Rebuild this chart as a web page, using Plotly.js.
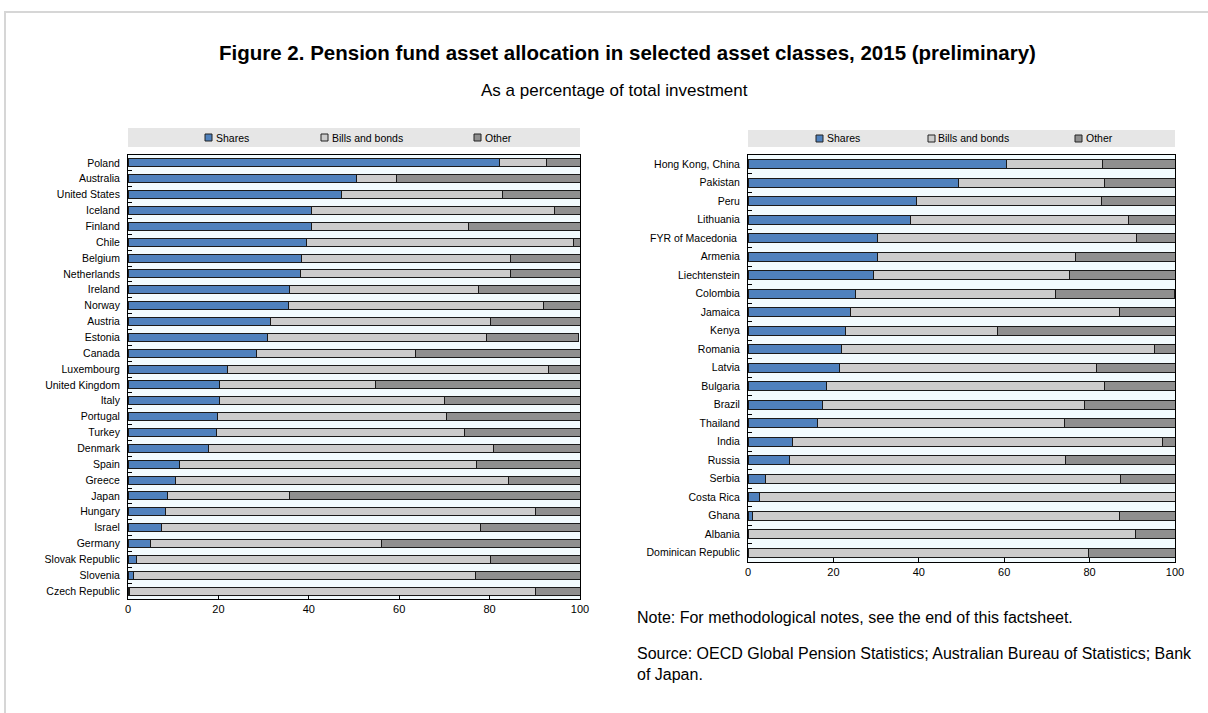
<!DOCTYPE html>
<html>
<head>
<meta charset="utf-8">
<script src="https://cdn.plot.ly/plotly-3.0.1.min.js"></script>
<style>
html,body{margin:0;padding:0;background:#fff;}
#chart{width:1208px;height:713px;}
</style>
</head>
<body>
<div id="chart"></div>
<script>
// ---------- DATA ----------
const seriesNames = ["Shares", "Bills and bonds", "Other"];

const leftCountries = ["Poland","Australia","United States","Iceland","Finland","Chile","Belgium","Netherlands","Ireland","Norway","Austria","Estonia","Canada","Luxembourg","United Kingdom","Italy","Portugal","Turkey","Denmark","Spain","Greece","Japan","Hungary","Israel","Germany","Slovak Republic","Slovenia","Czech Republic"];
const leftShares = [82.2,50.5,47.2,40.6,40.6,39.6,38.3,38.1,35.7,35.4,31.6,30.9,28.4,22.1,20.3,20.3,19.9,19.6,17.7,11.4,10.4,8.7,8.4,7.5,4.9,1.8,1.3,0.3];
const leftBonds  = [10.4,9.0,35.7,53.7,34.8,58.9,46.3,46.6,41.8,56.5,48.5,48.4,35.1,70.9,34.5,49.7,50.6,54.8,63.2,65.7,73.8,27.0,81.7,70.4,51.1,78.5,75.5,89.8];
const leftOther  = [7.4,40.5,17.1,5.7,24.6,1.5,15.4,15.3,22.5,8.1,19.9,20.4,36.5,7.0,45.2,30.0,29.5,25.6,19.1,22.9,15.8,64.3,9.9,22.1,44.0,19.7,23.2,9.9];

const rightCountries = ["Hong Kong, China","Pakistan","Peru","Lithuania","FYR of Macedonia\u00a0","Armenia","Liechtenstein","Colombia","Jamaica","Kenya","Romania","Latvia","Bulgaria","Brazil","Thailand","India","Russia","Serbia","Costa Rica","Ghana","Albania","Dominican Republic"];
const rightShares = [60.6,49.2,39.5,38.0,30.3,30.3,29.5,25.2,23.9,22.8,22.0,21.5,18.5,17.4,16.2,10.4,9.8,4.0,2.8,1.1,0,0];
const rightBonds  = [22.4,34.2,43.2,51.0,60.6,46.5,45.7,46.9,63.2,35.7,73.2,60.0,64.9,61.5,57.9,86.6,64.5,83.2,97.2,86.0,90.8,79.7];
const rightOther  = [17.0,16.6,17.3,11.0,9.1,23.2,24.8,27.7,12.9,41.5,4.8,18.5,16.6,21.1,25.9,3.0,25.7,13.1,0,12.9,9.2,20.3];

const xTicks = [0,20,40,60,80,100];

const titleText = "Figure 2. Pension fund asset allocation in selected asset classes, 2015 (preliminary)";
const subtitleText = "As a percentage of total investment";
const noteText = "Note: For methodological notes, see the end of this factsheet.";
const sourceText = "Source: OECD Global Pension Statistics; Australian Bureau of Statistics; Bank<br>of Japan.";

// ---------- STYLE ----------
const colors = ["#4f81bd", "#cccccc", "#8f8f8f"];
const W = 1208, H = 713;
const px = x => x / W;
const py = y => 1 - y / H;
const NARROW = "'Liberation Sans Narrow', 'Arial Narrow', 'Liberation Sans', Arial, sans-serif";
const ARIAL = "'Liberation Sans', Arial, sans-serif";

function makeTraces(cats, shares, bonds, other, xa, ya) {
  const vals = [shares, bonds, other];
  return vals.map((v, i) => ({
    type: "bar",
    orientation: "h",
    name: seriesNames[i],
    y: cats,
    x: v,
    xaxis: xa,
    yaxis: ya,
    marker: { color: colors[i], line: { color: "#1a1a1a", width: 1 } },
    showlegend: false,
    hoverinfo: "x+y+name"
  }));
}

const data = [
  ...makeTraces(leftCountries, leftShares, leftBonds, leftOther, "x", "y"),
  ...makeTraces(rightCountries, rightShares, rightBonds, rightOther, "x2", "y2")
];

function xAxis(domain, anchor) {
  return {
    domain: domain, anchor: anchor, range: [0, 100], tickvals: xTicks,
    ticks: "inside", ticklen: 4, tickcolor: "#000", tickwidth: 1,
    showline: true, mirror: true, linecolor: "#000", linewidth: 1,
    showgrid: false, zeroline: false, fixedrange: true,
    tickfont: { family: NARROW, size: 11, color: "#000" }
  };
}
function yAxis(domain, anchor, cats) {
  return {
    domain: domain, anchor: anchor, type: "category",
    categoryorder: "array", categoryarray: cats, autorange: "reversed",
    ticks: "inside", tickson: "boundaries", ticklen: 4, tickcolor: "#000", tickwidth: 1,
    showline: true, mirror: true, linecolor: "#000", linewidth: 1,
    showgrid: false, zeroline: false, fixedrange: true, ticklabelstandoff: 5,
    tickfont: { family: NARROW, size: 10.5, color: "#000" }
  };
}

// legend bands and entries (drawn as legend decorations)
const legendBands = [
  { x0: 128, x1: 580, y0: 128, y1: 147, markers: [205, 321, 474] },
  { x0: 748, x1: 1175, y0: 130, y1: 147, markers: [816, 928, 1075] }
];
const shapes = [
  { type: "rect", xref: "paper", yref: "paper", x0: px(5), x1: px(1215), y0: py(12), y1: py(720),
    line: { color: "#d6d6d6", width: 2 }, fillcolor: "rgba(0,0,0,0)", layer: "below" }
];
const annotations = [
  { text: "<b>" + titleText + "</b>", x: px(627), y: py(52), xref: "paper", yref: "paper",
    showarrow: false, xanchor: "center", yanchor: "middle", font: { family: ARIAL, size: 20.5, color: "#000" } },
  { text: subtitleText, x: px(614), y: py(91), xref: "paper", yref: "paper",
    showarrow: false, xanchor: "center", yanchor: "middle", font: { family: ARIAL, size: 17, color: "#000" } },
  { text: noteText, x: px(635), y: py(617), xref: "paper", yref: "paper", align: "left",
    showarrow: false, xanchor: "left", yanchor: "middle", font: { family: ARIAL, size: 16, color: "#000" } },
  { text: sourceText, x: px(635), y: py(643), xref: "paper", yref: "paper", align: "left",
    showarrow: false, xanchor: "left", yanchor: "top", font: { family: ARIAL, size: 16, color: "#000" } }
];
legendBands.forEach(b => {
  shapes.push({ type: "rect", xref: "paper", yref: "paper", x0: px(b.x0), x1: px(b.x1), y0: py(b.y1), y1: py(b.y0),
    line: { width: 0 }, fillcolor: "#e6e6e6", layer: "below" });
  const yc = (b.y0 + b.y1) / 2;
  b.markers.forEach((mx, i) => {
    shapes.push({ type: "rect", xref: "paper", yref: "paper", x0: px(mx), x1: px(mx + 7), y0: py(yc + 3.5), y1: py(yc - 3.5),
      line: { color: "#222", width: 1 }, fillcolor: colors[i] });
    annotations.push({ text: seriesNames[i], x: px(mx + 8.5), y: py(yc), xref: "paper", yref: "paper",
      showarrow: false, xanchor: "left", yanchor: "middle", font: { family: NARROW, size: 10.5, color: "#000" } });
  });
});

const layout = {
  width: W, height: H,
  margin: { l: 0, r: 0, t: 0, b: 0, pad: 0 },
  paper_bgcolor: "#ffffff",
  plot_bgcolor: "#f2fbfe",
  barmode: "stack",
  bargap: 0.5,
  showlegend: false,
  xaxis: xAxis([px(128), px(580)], "y"),
  yaxis: yAxis([py(599), py(155)], "x", leftCountries),
  xaxis2: xAxis([px(748), px(1175)], "y2"),
  yaxis2: yAxis([py(562), py(155)], "x2", rightCountries),
  shapes: shapes,
  annotations: annotations
};

Plotly.newPlot("chart", data, layout, { displayModeBar: false, staticPlot: true });
</script>
</body>
</html>
